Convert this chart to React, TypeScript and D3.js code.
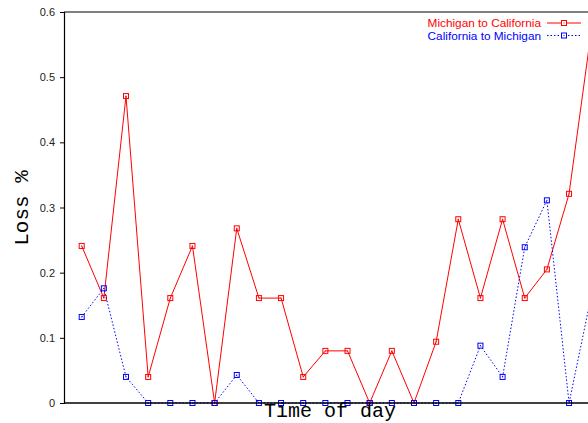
import React, { useEffect, useRef } from 'react';
import * as d3 from 'd3';

// time-of-day slots (no tick labels are shown on the x axis)
const slots = [0, 1, 2, 3, 4, 5, 6, 7, 8, 9, 10, 11, 12, 13, 14, 15, 16, 17, 18, 19, 20, 21, 22, 23];

const michiganToCalifornia = [
	0.241, 0.161, 0.471, 0.04, 0.161, 0.241, 0, 0.268, 0.161, 0.161, 0.04, 0.08,
	0.08, 0, 0.08, 0, 0.094, 0.282, 0.161, 0.282, 0.161, 0.205, 0.321, 0.57,
];

const californiaToMichigan = [
	0.132, 0.176, 0.04, 0, 0, 0, 0, 0.043, 0, 0, 0, 0, 0, 0, 0, 0, 0, 0, 0.088,
	0.04, 0.239, 0.311, 0, 0.164,
];

const yTicks = [0, 0.1, 0.2, 0.3, 0.4, 0.5, 0.6];

const seriesList = [
	{ name: 'Michigan to California', values: michiganToCalifornia, color: '#ff0000', dash: null },
	{ name: 'California to Michigan', values: californiaToMichigan, color: '#0000ff', dash: '1.5,2' },
];

const App: React.FC = () => {
	const ref = useRef<SVGSVGElement>(null);

	const W = 588;
	const H = 423;
	const margin = { top: 12, right: 0, bottom: 20, left: 64 };

	useEffect(() => {
		if (!ref.current) return;
		const svg = d3.select(ref.current);
		svg.selectAll('*').remove();

		const x = d3.scaleLinear().domain([0, 23]).range([81.7, 591.2]);
		const y = d3.scaleLinear().domain([0, 0.6]).range([H - margin.bottom, margin.top]);

		// --- Frame ---
		svg
			.append('line')
			.attr('x1', margin.left)
			.attr('x2', W)
			.attr('y1', margin.top)
			.attr('y2', margin.top)
			.attr('stroke', '#000')
			.attr('stroke-width', 1.2);

		// --- Y axis ---
		const yAxis = d3
			.axisLeft(y)
			.tickValues(yTicks)
			.tickSize(4)
			.tickPadding(5)
			.tickFormat((d) => (d === 0 ? '0' : d3.format('.1f')(d as number)));
		const gy = svg
			.append('g')
			.attr('transform', `translate(${margin.left},0)`)
			.call(yAxis);
		gy.select('.domain').attr('stroke-width', 1.2);
		gy.selectAll('text')
			.attr('font-family', '"Liberation Sans", Arial, sans-serif')
			.attr('font-size', 11)
			.attr('fill', '#222');

		// --- Lines + markers ---
		seriesList.forEach((s) => {
			const line = d3
				.line<number>()
				.x((d, i) => x(slots[i]))
				.y((d) => y(d));
			svg
				.append('path')
				.datum(s.values)
				.attr('d', line)
				.attr('fill', 'none')
				.attr('stroke', s.color)
				.attr('stroke-width', 1)
				.attr('stroke-dasharray', s.dash);

			const pts = svg
				.append('g')
				.selectAll('g')
				.data(s.values)
				.enter()
				.append('g')
				.attr('transform', (d, i) => `translate(${x(slots[i])},${y(d)})`);
			pts
				.append('rect')
				.attr('x', -2.5)
				.attr('y', -2.5)
				.attr('width', 5)
				.attr('height', 5)
				.attr('fill', 'none')
				.attr('stroke', s.color)
				.attr('stroke-width', 1);
			pts
				.append('rect')
				.attr('x', -0.5)
				.attr('y', -0.5)
				.attr('width', 1)
				.attr('height', 1)
				.attr('fill', s.color);
		});

		// bottom axis line (drawn over the zero markers)
		svg
			.append('line')
			.attr('x1', margin.left)
			.attr('x2', W)
			.attr('y1', H - margin.bottom)
			.attr('y2', H - margin.bottom)
			.attr('stroke', '#000')
			.attr('stroke-width', 1.5);

		// --- Axis titles ---
		svg
			.append('text')
			.attr('x', 330)
			.attr('y', 417)
			.attr('text-anchor', 'middle')
			.attr('font-family', '"Liberation Mono", "Courier New", monospace')
			.attr('font-size', 20)
			.text('Time of day');

		svg
			.append('text')
			.attr('transform', 'translate(28,208) rotate(-90)')
			.attr('text-anchor', 'middle')
			.attr('font-family', '"Liberation Mono", "Courier New", monospace')
			.attr('font-size', 21)
			.text('Loss %');

		// --- Legend ---
		const legend = svg
			.append('g')
			.selectAll('g')
			.data(seriesList)
			.enter()
			.append('g')
			.attr('transform', (d, i) => `translate(0,${23 + i * 12.5})`);

		legend
			.append('text')
			.attr('x', 541)
			.attr('dy', '0.35em')
			.attr('text-anchor', 'end')
			.attr('font-family', '"Liberation Sans", Arial, sans-serif')
			.attr('font-size', 11.8)
			.attr('fill', (d) => d.color)
			.text((d) => d.name);

		legend
			.append('line')
			.attr('x1', 547)
			.attr('x2', 581)
			.attr('stroke', (d) => d.color)
			.attr('stroke-dasharray', (d) => d.dash);

		legend
			.append('rect')
			.attr('x', 561.5)
			.attr('y', -2.5)
			.attr('width', 5)
			.attr('height', 5)
			.attr('fill', 'white')
			.attr('stroke', (d) => d.color);
		legend
			.append('rect')
			.attr('x', 563.5)
			.attr('y', -0.5)
			.attr('width', 1)
			.attr('height', 1)
			.attr('fill', (d) => d.color);
	}, []);

	return (
		<svg
			ref={ref}
			width={W}
			height={H}
			style={{ position: 'absolute', left: 0, top: 0, background: '#fff' }}
		/>
	);
};

export default App;
